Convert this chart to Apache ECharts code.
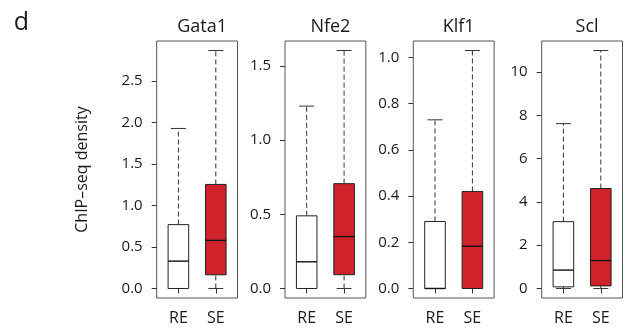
<!DOCTYPE html>
<html>
<head>
<meta charset="utf-8">
<script src="https://cdn.jsdelivr.net/npm/echarts@6/dist/echarts.min.js"></script>
<style>
  html, body { margin: 0; padding: 0; background: #fff; }
  #chart { width: 627px; height: 330px; }
</style>
</head>
<body>
<div id="chart"></div>
<script>
// Transcription factors, one panel each
const factors = ['Gata1', 'Nfe2', 'Klf1', 'Scl'];
const groups = ['RE', 'SE'];

// Box statistics per group: [lower whisker, Q1, median, Q3, upper whisker]
const gata1RE = [0, 0, 0.33, 0.77, 1.93];
const gata1SE = [0, 0.165, 0.58, 1.255, 2.87];
const nfe2RE  = [0, 0, 0.18, 0.49, 1.23];
const nfe2SE  = [0, 0.093, 0.35, 0.707, 1.605];
const klf1RE  = [0, 0, 0, 0.29, 0.73];
const klf1SE  = [0, 0, 0.183, 0.42, 1.03];
const sclRE   = [0, 0.075, 0.85, 3.09, 7.62];
const sclSE   = [0, 0.12, 1.29, 4.62, 11.0];

// Y tick values per panel
const gata1Ticks = [0, 0.5, 1.0, 1.5, 2.0, 2.5];
const nfe2Ticks  = [0, 0.5, 1.0, 1.5];
const klf1Ticks  = [0, 0.2, 0.4, 0.6, 0.8, 1.0];
const sclTicks   = [0, 2, 4, 6, 8, 10];
const tickDecimals = [1, 1, 1, 0];

const panelStats = [[gata1RE, gata1SE], [nfe2RE, nfe2SE], [klf1RE, klf1SE], [sclRE, sclSE]];
const panelTicks = [gata1Ticks, nfe2Ticks, klf1Ticks, sclTicks];

const FONT = 'Open Sans';
const RED = '#d0222a';
const INK = '#1a1a1a';
const frameLefts = [156.7, 285, 413.3, 541.7];
const frameWidth = 80.8;
const frameTop = 41;
const frameBottom = 32; // 330 - 298

const chart = echarts.init(document.getElementById('chart'), null, { renderer: 'canvas' });

const grids = [], xAxes = [], yAxes = [], series = [], titles = [];

panelStats.forEach((stats, i) => {
  // R-style range: 4% padding beyond the data extent
  const hi = Math.max(...stats.map(s => s[4]));
  const lo = Math.min(...stats.map(s => s[0]));
  const pad = (hi - lo) * 0.04;

  grids.push({
    left: frameLefts[i], top: frameTop, width: frameWidth, bottom: frameBottom,
    show: true, borderColor: '#555', borderWidth: 1, backgroundColor: 'transparent'
  });
  xAxes.push({
    type: 'value', gridIndex: i, min: 0.42, max: 2.58,
    axisLine: { show: false }, splitLine: { show: false },
    axisTick: { show: true, length: 5, customValues: [1, 2], lineStyle: { color: '#333' } },
    axisLabel: {
      customValues: [1, 2], margin: 12, color: INK, fontFamily: FONT, fontSize: 16,
      formatter: v => groups[Math.round(v) - 1]
    }
  });
  yAxes.push({
    type: 'value', gridIndex: i, min: lo - pad, max: hi + pad,
    axisLine: { show: false }, splitLine: { show: false },
    axisTick: { show: true, length: 5, customValues: panelTicks[i], lineStyle: { color: '#333' } },
    axisLabel: {
      customValues: panelTicks[i], margin: 14, color: INK, fontFamily: FONT, fontSize: 15,
      formatter: v => v.toFixed(tickDecimals[i])
    }
  });
  titles.push({
    text: factors[i],
    left: frameLefts[i] + frameWidth / 2, top: 13, textAlign: 'center',
    textStyle: { fontFamily: FONT, fontSize: 18, fontWeight: 'normal', color: INK }
  });
  series.push({
    type: 'custom', xAxisIndex: i, yAxisIndex: i, clip: false,
    data: stats.map((s, g) => [g + 1, ...s]),
    renderItem: (params, api) => {
      const x = api.value(0);
      const g = Math.round(x) - 1;
      const boxW = api.size([0.55, 0])[0];
      const capW = api.size([0.4, 0])[0];
      const pLo = api.coord([x, api.value(1)]);
      const pQ1 = api.coord([x, api.value(2)]);
      const pMed = api.coord([x, api.value(3)]);
      const pQ3 = api.coord([x, api.value(4)]);
      const pHi = api.coord([x, api.value(5)]);
      const cx = pMed[0];
      const dash = { stroke: '#333', lineWidth: 1, lineDash: [5, 3] };
      const solid = { stroke: '#333', lineWidth: 1 };
      return {
        type: 'group',
        children: [
          { type: 'line', shape: { x1: cx, y1: pQ3[1], x2: cx, y2: pHi[1] }, style: dash },
          { type: 'line', shape: { x1: cx, y1: pLo[1], x2: cx, y2: pQ1[1] }, style: dash },
          { type: 'line', shape: { x1: cx - capW / 2, y1: pHi[1], x2: cx + capW / 2, y2: pHi[1] }, style: solid },
          { type: 'line', shape: { x1: cx - capW / 2, y1: pLo[1], x2: cx + capW / 2, y2: pLo[1] }, style: solid },
          {
            type: 'rect',
            shape: { x: cx - boxW / 2, y: pQ3[1], width: boxW, height: pQ1[1] - pQ3[1] },
            style: { fill: g === 1 ? RED : '#fff', stroke: '#222', lineWidth: 1 }
          },
          { type: 'line', shape: { x1: cx - boxW / 2, y1: pMed[1], x2: cx + boxW / 2, y2: pMed[1] },
            style: { stroke: '#111', lineWidth: 1.4 } }
        ]
      };
    }
  });
});

chart.setOption({
  animation: false,
  backgroundColor: '#fff',
  title: titles,
  grid: grids,
  xAxis: xAxes,
  yAxis: yAxes,
  series: series,
  graphic: [
    {
      type: 'text', x: 21.5, y: 23,
      style: { text: 'd', fontFamily: FONT, fontSize: 25, fill: INK, align: 'center', verticalAlign: 'middle' }
    },
    {
      type: 'text', x: 82, y: 169.5, rotation: Math.PI / 2,
      style: { text: 'ChIP\u2013seq density', fontFamily: FONT, fontSize: 16, fill: INK, align: 'center', verticalAlign: 'middle' }
    }
  ]
});
</script>
</body>
</html>
